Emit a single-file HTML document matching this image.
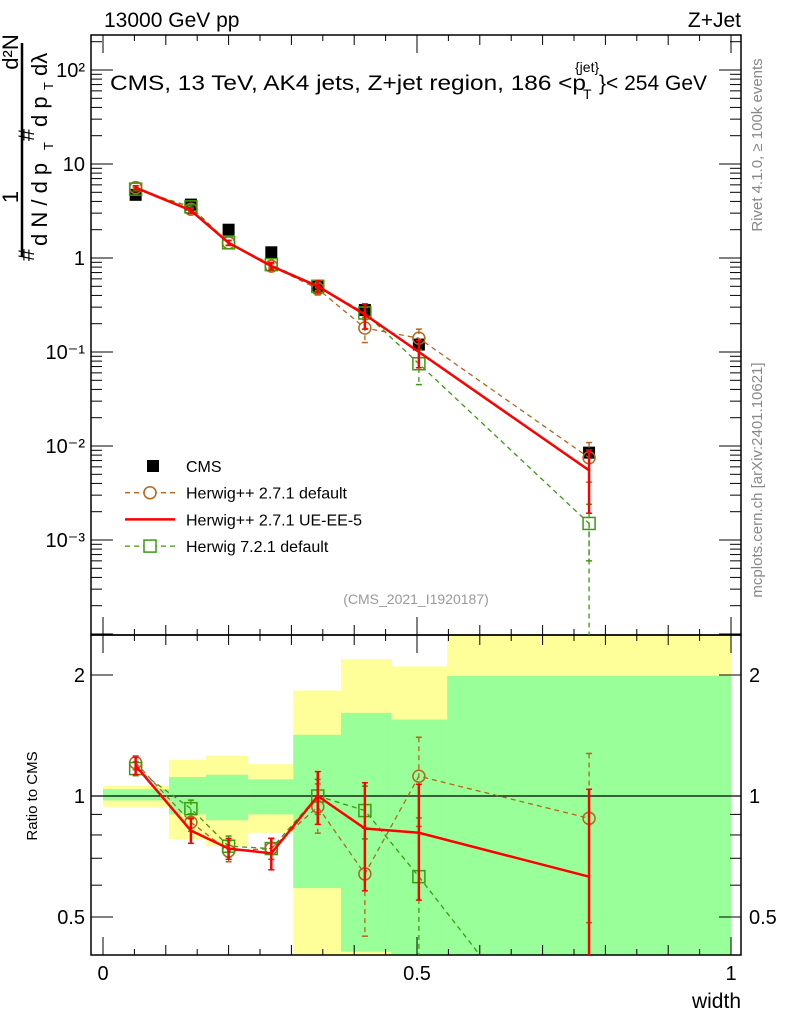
<!DOCTYPE html>
<html><head><meta charset="utf-8"><style>
html,body{margin:0;padding:0;background:#fff;overflow:hidden;width:786px;height:1024px;}
svg{display:block;font-family:"Liberation Sans",sans-serif;}
</style></head><body>
<svg id="c" width="786" height="1024" viewBox="0 0 786 1024" xmlns="http://www.w3.org/2000/svg"></svg>
<script>
const binEdges=[0,0.105,0.164,0.231,0.303,0.379,0.459,0.548,1.0];
const xPts=[0.052,0.14,0.2,0.268,0.342,0.417,0.503,0.774];
const cmsVals=[4.7,3.7,2.0,1.15,0.5,0.28,0.12,0.0085];
const hppDefVals=[5.6,3.3,1.45,0.82,0.47,0.18,0.14,0.0075];
const ueVals=[5.6,3.2,1.45,0.82,0.5,0.25,0.1,0.0055];
const h7Vals=[5.4,3.5,1.45,0.85,0.5,0.26,0.075,0.0015];
const ueRatio=[1.19,0.82,0.74,0.72,1.0,0.83,0.81,0.63];
const hppDefRatio=[1.21,0.86,0.73,0.74,0.94,0.64,1.12,0.88];
const h7Ratio=[1.17,0.93,0.75,0.74,1.0,0.92,0.63,0.18];
const ueErr=[0.05,0.07,0.06,0.09,0.15,0.3,0.32,0.65];
const hppDefErr=[0.04,0.05,0.06,0.06,0.14,0.3,0.25,0.45];
const h7Err=[0.04,0.05,0.06,0.06,0.1,0.15,0.4,0.6];
const yelLo=[0.94,0.78,0.75,0.81,0.3,0.3,0.46,0.3];
const yelHi=[1.06,1.23,1.26,1.2,1.83,2.19,2.1,3];
const grnLo=[0.975,0.9,0.87,0.9,0.59,0.41,0.3,0.3];
const grnHi=[1.04,1.115,1.13,1.1,1.42,1.61,1.55,1.99];
const ratioTicks=[0.5,1,2];
const mainTicks=[[100,"10²"],[10,"10"],[1,"1"],[0.1,"10⁻¹"],[0.01,"10⁻²"],[0.001,"10⁻³"]];
const xTicks=[0,0.5,1];

const svg=document.getElementById('c');
const NS="http://www.w3.org/2000/svg";
const L=91,R=741,T=35,M=635,B=955;
const X=v=>103+628*v;
const Y=v=>258-94*Math.log10(v);
const YR=v=>796-402*Math.log10(v);
const clamp=(y,lo,hi)=>Math.max(lo,Math.min(hi,y));
function el(t,a,txt,parent){const e=document.createElementNS(NS,t);for(const k in a)e.setAttribute(k,a[k]);if(txt!==undefined&&txt!==null)e.textContent=txt;(parent||svg).appendChild(e);return e;}

for(let i=0;i<8;i++){
 const x0=X(binEdges[i]),x1=X(binEdges[i+1]);
 const yh=clamp(YR(yelHi[i]),M,B),yl=clamp(YR(yelLo[i]),M,B);
 let e=el('rect',{x:x0,y:yh,width:x1-x0,height:yl-yh,fill:'#ffff99'});
 
 
 const gh=clamp(YR(grnHi[i]),M,B),gl=clamp(YR(grnLo[i]),M,B);
 e=el('rect',{x:x0,y:gh,width:x1-x0,height:gl-gh,fill:'#99ff99'});
 
 
}
el('line',{x1:L,x2:R,y1:YR(1),y2:YR(1),stroke:'#000','stroke-width':1.3});

el('rect',{x:L,y:T,width:R-L,height:M-T,fill:'none',stroke:'#000','stroke-width':1.5});
el('rect',{x:L,y:M,width:R-L,height:B-M,fill:'none',stroke:'#000','stroke-width':1.5});

for(let k=0;k<=20;k++){
 const v=k*0.05,x=X(v);const len=(k%10==0)?18:(k%2==0?10:6);
 for(const [y0,d] of [[B,-1],[M,1],[M,-1],[T,1]]){
  el('line',{x1:x,x2:x,y1:y0,y2:y0+d*len,stroke:'#000','stroke-width':1});
 }
}
xTicks.forEach(v=>{const t=el('text',{x:X(v),y:980,'font-size':20,'text-anchor':'middle'},String(v));});
for(let d=-4;d<=2;d++){for(let m=1;m<10;m++){const v=m*Math.pow(10,d);const y=Y(v);if(y<T||y>M)continue;const len=m==1?22:11;
 el('line',{x1:L,x2:L+len,y1:y,y2:y,stroke:'#000','stroke-width':1});
 el('line',{x1:R,x2:R-len,y1:y,y2:y,stroke:'#000','stroke-width':1});}}
mainTicks.forEach(([v,s])=>{const t=el('text',{x:L-6,y:Y(v)+7,'font-size':20,'text-anchor':'end'},s);});
[0.4,0.5,0.6,0.7,0.8,0.9,1,2].forEach(v=>{const y=YR(v);if(y>B)return;const len=(v==0.5||v==1||v==2)?22:11;
 el('line',{x1:L,x2:L+len,y1:y,y2:y,stroke:'#000'});el('line',{x1:R,x2:R-len,y1:y,y2:y,stroke:'#000'});});
ratioTicks.forEach(v=>{let t=el('text',{x:L-6,y:YR(v)+7,'font-size':20,'text-anchor':'end'},String(v));
 t=el('text',{x:R+8,y:YR(v)+7,'font-size':20},String(v));});

function clippedPoints(arr,f,lo,hi){
 const pts=[];
 for(let i=0;i<arr.length;i++){
  const x=X(xPts[i]),y=f(arr[i]);
  if(y>=lo&&y<=hi){pts.push([x,y]);continue;}
  if(i>0){const px=X(xPts[i-1]),py=f(arr[i-1]);
   if(py>=lo&&py<=hi){const yb=y>hi?hi:lo;const t=(yb-py)/(y-py);pts.push([px+t*(x-px),yb]);}}
  break;
 }
 return pts.map(p=>p[0]+','+p[1]).join(' ');
}
function series(vals,ratios,errs,color,dash,marker,name){
 const sw=dash?1.3:2.5, da=dash||'';
 [[vals,Y,T,M],[ratios,YR,M,B]].forEach(([arr,f,lo,hi])=>{
  const g=el('g',{});
  el('polyline',{points:clippedPoints(arr,f,lo,hi),fill:'none',stroke:color,'stroke-width':sw,'stroke-dasharray':da},null,g);
  arr.forEach((v,i)=>{const x=X(xPts[i]),y=f(v);
   if(y<lo||y>hi)return;
   const r1=f(v*(1+errs[i])),r2=f(Math.max(v*(1-errs[i]),1e-9));
   const y1=clamp(r1,lo,hi),y2=clamp(r2,lo,hi);
   el('line',{x1:x,x2:x,y1:y1,y2:y2,stroke:color,'stroke-width':sw,'stroke-dasharray':da},null,g);
   if(r1>=lo)el('line',{x1:x-3,x2:x+3,y1:y1,y2:y1,stroke:color,'stroke-width':1.5},null,g);
   if(r2<=hi)el('line',{x1:x-3,x2:x+3,y1:y2,y2:y2,stroke:color,'stroke-width':1.5},null,g);
   if(marker=='o'){const m=el('circle',{cx:x,cy:y,r:6,fill:'none',stroke:color,'stroke-width':1.5},null,g);}
   if(marker=='s'){const m=el('rect',{x:x-6,y:y-6,width:12,height:12,fill:'none',stroke:color,'stroke-width':1.5},null,g);}
  });
 });
}
cmsVals.forEach((v,i)=>{const m=el('rect',{x:X(xPts[i])-6,y:Y(v)-6,width:12,height:12,fill:'#000'});});
series(hppDefVals,hppDefRatio,hppDefErr,'#b5651d','5,4','o','herwigpp-default');
series(h7Vals,h7Ratio,h7Err,'#3c9a0e','5,4','s','herwig7-default');
el('line',{x1:X(xPts[7]),x2:X(xPts[7]),y1:Y(h7Vals[7]),y2:M,stroke:'#3c9a0e','stroke-width':1.3,'stroke-dasharray':'5,4'});
series(ueVals,ueRatio,ueErr,'#ff0000',null,null,'herwigpp-ue-ee-5');

const lg=[['CMS','cms'],['Herwig++ 2.7.1 default','#b5651d'],['Herwig++ 2.7.1 UE-EE-5','#ff0000'],['Herwig 7.2.1 default','#3c9a0e']];
lg.forEach((e,i)=>{const y=466+i*26.7;
 if(i==0)el('rect',{x:147,y:y-6,width:12,height:12,fill:'#000'});
 else{el('line',{x1:125,x2:175,y1:y,y2:y,stroke:e[1],'stroke-width':i==2?2.5:1.3,'stroke-dasharray':i==2?'':'5,4'});
  if(i==1)el('circle',{cx:150,cy:y,r:6,fill:'#fff',stroke:e[1],'stroke-width':1.5});
  if(i==3)el('rect',{x:144,y:y-6,width:12,height:12,fill:'#fff',stroke:e[1],'stroke-width':1.5});}
 const t=el('text',{x:186,y:y+6,'font-size':16},e[0]);
});

function txt(a,s,name){const t=el('text',a,s);return t;}
txt({x:104,y:27,'font-size':21},'13000 GeV pp','header-left');
txt({x:741,y:27,'font-size':21,'text-anchor':'end'},'Z+Jet','header-right');
txt({x:110,y:90,'font-size':21,textLength:476,lengthAdjust:'spacingAndGlyphs'},'CMS, 13 TeV, AK4 jets, Z+jet region, 186 <p','plot-title');
txt({x:575,y:72,'font-size':14},'{jet}','plot-title-sup');
txt({x:583,y:99,'font-size':14},'T','plot-title-sub');
txt({x:599,y:90,'font-size':21},'}< 254 GeV','plot-title-end');
txt({x:416,y:604,'font-size':14,fill:'#999','text-anchor':'middle'},'(CMS_2021_I1920187)','analysis-id');
txt({x:741,y:1008,'font-size':21,'text-anchor':'end'},'width','x-axis-title');
txt({x:0,y:0,'font-size':15,'text-anchor':'middle',transform:'translate(37,796) rotate(-90)'},'Ratio to CMS','ratio-axis-title');
txt({x:0,y:0,'font-size':15,fill:'#888','text-anchor':'middle',transform:'translate(762,145) rotate(-90)'},'Rivet 4.1.0, ≥ 100k events','rivet-label');
txt({x:0,y:0,'font-size':15,fill:'#888','text-anchor':'middle',transform:'translate(762,480) rotate(-90)'},'mcplots.cern.ch [arXiv:2401.10621]','mcplots-label');
el('line',{x1:22,x2:22,y1:43,y2:257,stroke:'#000','stroke-width':2.5});
txt({x:0,y:0,'font-size':22,'text-anchor':'middle',transform:'translate(34,255) rotate(-90)'},'#','ylab-hash1');
txt({x:0,y:0,'font-size':22,'text-anchor':'middle',transform:'translate(18,197) rotate(-90)'},'1','ylab-one');
txt({x:0,y:0,'font-size':22,transform:'translate(47,246) rotate(-90)'},'d N / d p','ylab-den');
txt({x:0,y:0,'font-size':13,transform:'translate(53,150) rotate(-90)'},'T','ylab-T1');
txt({x:0,y:0,'font-size':22,'text-anchor':'middle',transform:'translate(34,135) rotate(-90)'},'#','ylab-hash2');
txt({x:0,y:0,'font-size':22,'text-anchor':'middle',transform:'translate(18,52) rotate(-90)'},'d²N','ylab-num');
txt({x:0,y:0,'font-size':22,transform:'translate(47,127) rotate(-90)'},'d p','ylab-dp');
txt({x:0,y:0,'font-size':13,transform:'translate(53,90) rotate(-90)'},'T','ylab-T2');
txt({x:0,y:0,'font-size':22,transform:'translate(47,76) rotate(-90)'},'dλ','ylab-dl');
</script>
</body></html>
